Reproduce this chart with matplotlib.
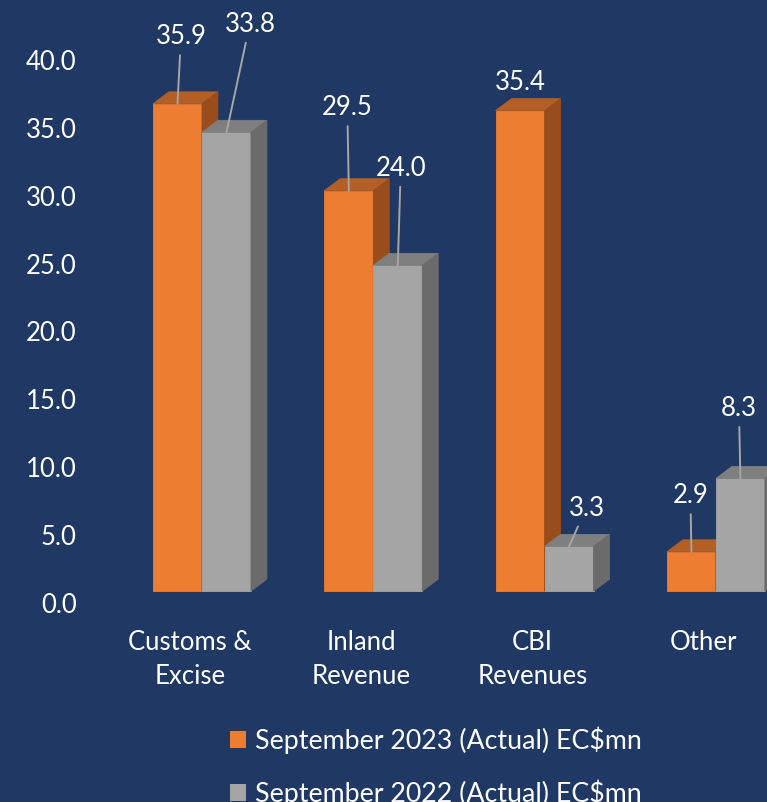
import matplotlib.pyplot as plt
from matplotlib.patches import Rectangle, Polygon, Patch

# Data
categories = ['Customs &\nExcise', 'Inland\nRevenue', 'CBI\nRevenues', 'Other']
sep_2023 = [35.9, 29.5, 35.4, 2.9]
sep_2022 = [33.8, 24.0, 3.3, 8.3]
series_names = ['September 2023 (Actual) EC$mn', 'September 2022 (Actual) EC$mn']
y_ticks = [0, 5, 10, 15, 20, 25, 30, 35, 40]

# Styling
bg = '#1F3864'
faces_2023 = ('#ED7D31', '#B45F26', '#9A4D1C')  # front, top, side
faces_2022 = ('#A5A5A5', '#7F7F7F', '#6B6B6B')
font = 'Lato'
fs = 18.5
bar_w = 0.286      # width of one bar (category spacing = 1)
depth_x = 0.093    # 3D depth offset in x units
depth_y = 0.88     # 3D depth offset in value units
base = 0.8         # floor offset of the 3D bars
# label offsets from bar top (pixels) and whether a leader line is drawn
offs_2023 = [(3.5, 68, True), (-1.5, 84, True), (0.5, 29.5, False), (-1, 57, True)]
offs_2022 = [(23.5, 109, True), (3, 98, True), (17.5, 39, True), (-1.5, 71, True)]

plt.rcParams['font.family'] = [font, 'DejaVu Sans']

fig = plt.figure(figsize=(7.67, 8.03), dpi=100, facecolor=bg)
ax = fig.add_axes([110 / 767, 1 - 620 / 803, 1 - 110 / 767, 620 / 803])
ax.set_facecolor(bg)
ax.set_xlim((110 - 202) / 171.3, (767 - 202) / 171.3)
ax.set_ylim((603 - 620) / 13.575, 603 / 13.575)


def bar3d(x0, v, colors):
    front, top, side = colors
    ax.add_patch(Rectangle((x0, base), bar_w, v, facecolor=front,
                           edgecolor=front, lw=0.6, zorder=2))
    ax.add_patch(Polygon([(x0, base + v), (x0 + bar_w, base + v),
                          (x0 + bar_w + depth_x, base + v + depth_y),
                          (x0 + depth_x, base + v + depth_y)],
                         closed=True, facecolor=top, edgecolor=top, lw=0.6, zorder=2))
    ax.add_patch(Polygon([(x0 + bar_w, base), (x0 + bar_w + depth_x, base + depth_y),
                          (x0 + bar_w + depth_x, base + v + depth_y), (x0 + bar_w, base + v)],
                         closed=True, facecolor=side, edgecolor=side, lw=0.6, zorder=2))


def label(x, v, off):
    dx, dy, line = off
    props = None
    if line:
        props = dict(arrowstyle='-', color='#A6A6A6', lw=1.4, shrinkA=3, shrinkB=0)
    ax.annotate(f'{v:.1f}', xy=(x, base + v), xytext=(dx, dy), textcoords='offset pixels',
                ha='center', va='center', color='white', fontsize=fs,
                arrowprops=props, zorder=5, annotation_clip=False)


for i in range(len(categories)):
    bar3d(i - bar_w, sep_2023[i], faces_2023)
    bar3d(i, sep_2022[i], faces_2022)
for i in range(len(categories)):
    label(i - bar_w / 2, sep_2023[i], offs_2023[i])
    label(i + bar_w / 2, sep_2022[i], offs_2022[i])

ax.set_yticks(y_ticks)
ax.set_yticklabels([f'{t:.1f}' for t in y_ticks])
ax.set_xticks([i - 0.07 for i in range(len(categories))])
ax.set_xticklabels(categories, linespacing=1.45)
ax.tick_params(axis='y', length=0, pad=24, labelsize=fs, labelcolor='white')
ax.tick_params(axis='x', length=0, pad=7, labelsize=fs, labelcolor='white')
for s in ax.spines.values():
    s.set_visible(False)

handles = [Patch(facecolor=faces_2023[0]), Patch(facecolor=faces_2022[0])]
fig.legend(handles, series_names, loc='upper left', bbox_to_anchor=(230 / 767, 1 - 727 / 803),
           frameon=False, fontsize=19.3, labelcolor='white', handlelength=0.6, handleheight=0.6,
           handletextpad=0.35, labelspacing=0.95, borderpad=0, borderaxespad=0)

fig.savefig('out.png', dpi=100, facecolor=bg)
